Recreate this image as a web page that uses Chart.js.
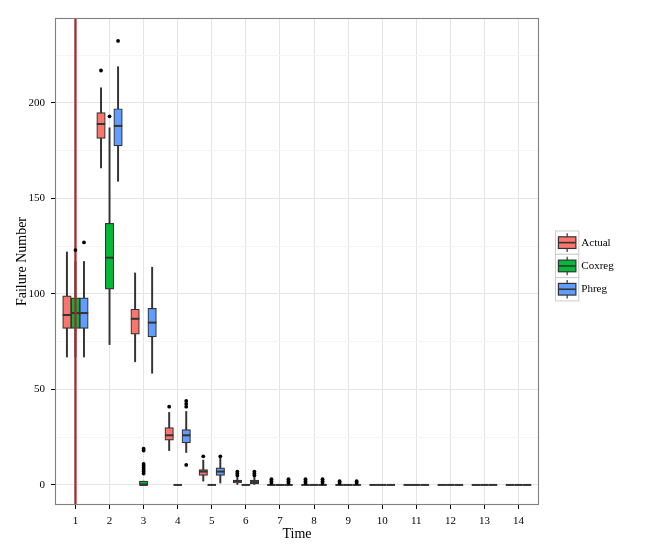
<!DOCTYPE html>
<html><head><meta charset="utf-8">
<script src="https://cdn.jsdelivr.net/npm/chart.js@4.4.1/dist/chart.umd.min.js"></script>
<style>html,body{margin:0;padding:0;background:#fff}#wrap{width:650px;height:553px}</style>
</head><body><div id="wrap"><canvas id="c" width="650" height="553"></canvas></div>
<script>
// ---- data ----
const times = [1, 2, 3, 4, 5, 6, 7, 8, 9, 10, 11, 12, 13, 14];
const seriesNames = ['Actual', 'Coxreg', 'Phreg'];
const yTickValues = [0, 25, 50, 75, 100, 125, 150, 175, 200, 225];
const yLabelStep = 50;
const vlineX = 1;

const actualLow  = [67, 166, 64.5, 18, 2, 0, 0, 0, 0, 0, 0, 0, 0, 0];
const actualQ1   = [82, 181.5, 79, 23.5, 5, 1, 0, 0, 0, 0, 0, 0, 0, 0];
const actualMed  = [89, 189, 87, 26, 7, 2, 0, 0, 0, 0, 0, 0, 0, 0];
const actualQ3   = [99, 195, 92, 30, 8, 2.5, 0, 0, 0, 0, 0, 0, 0, 0];
const actualHigh = [122, 208, 111, 38, 13, 4, 0, 0, 0, 0, 0, 0, 0, 0];
const actualOut  = [[], [217], [], [41], [15], [5, 6, 7], [1, 2, 3], [1, 2, 3], [1, 2], [], [], [], [], []];

const coxregLow  = [67, 73.5, 0, 0, 0, 0, 0, 0, 0, 0, 0, 0, 0, 0];
const coxregQ1   = [82, 102.5, 0, 0, 0, 0, 0, 0, 0, 0, 0, 0, 0, 0];
const coxregMed  = [90, 119, 0, 0, 0, 0, 0, 0, 0, 0, 0, 0, 0, 0];
const coxregQ3   = [98, 137, 2, 0, 0, 0, 0, 0, 0, 0, 0, 0, 0, 0];
const coxregHigh = [117, 187, 2, 0, 0, 0, 0, 0, 0, 0, 0, 0, 0, 0];
const coxregOut  = [[123], [193], [6, 7, 8, 9, 10, 11, 18, 19], [], [], [], [], [], [], [], [], [], [], []];

const phregLow   = [67, 159, 58.5, 17, 1, 0, 0, 0, 0, 0, 0, 0, 0, 0];
const phregQ1    = [82, 177.5, 77.5, 22, 5, 0.5, 0, 0, 0, 0, 0, 0, 0, 0];
const phregMed   = [90, 188, 85, 26, 7, 1.5, 0, 0, 0, 0, 0, 0, 0, 0];
const phregQ3    = [98, 197, 92.5, 29, 9, 2.5, 0, 0, 0, 0, 0, 0, 0, 0];
const phregHigh  = [117, 219, 114, 38.5, 14, 4, 0, 0, 0, 0, 0, 0, 0, 0];
const phregOut   = [[127], [232.5], [], [10.5, 41, 42.5, 44], [15], [5, 6, 7], [1, 2, 3], [1, 2, 3], [1, 2], [], [], [], [], []];

// ---- styling ----
const FONT = "'Liberation Serif', 'Times New Roman', 'DejaVu Serif', serif";
const fills = ['#F8766D', '#00BA38', '#619CFF'];
const dodge = [-0.25, 0, 0.25];
const LINE = '#333333';

const series = [
  {low: actualLow, q1: actualQ1, med: actualMed, q3: actualQ3, high: actualHigh, out: actualOut},
  {low: coxregLow, q1: coxregQ1, med: coxregMed, q3: coxregQ3, high: coxregHigh, out: coxregOut},
  {low: phregLow, q1: phregQ1, med: phregMed, q3: phregQ3, high: phregHigh, out: phregOut}
];

const datasets = [];
series.forEach((s, g) => {
  const xs = times.map(t => t + dodge[g]);
  datasets.push({
    type: 'bar', label: seriesNames[g] + ' whiskers',
    data: xs.map((x, i) => ({x: x, y: [s.low[i], s.high[i]]})),
    backgroundColor: LINE, borderWidth: 0, barThickness: 1.3, grouped: false, order: 40 + g
  });
  datasets.push({
    type: 'bar', label: seriesNames[g],
    data: xs.map((x, i) => ({x: x, y: [s.q1[i], s.q3[i]]})),
    backgroundColor: fills[g], borderColor: LINE, borderWidth: 1.2, borderSkipped: false,
    barThickness: 8.5, grouped: false, order: 30 + g
  });
  datasets.push({
    type: 'scatter', label: seriesNames[g] + ' median',
    data: xs.map((x, i) => ({x: x, y: s.med[i]})),
    pointStyle: 'line', radius: 4.25, borderWidth: 2, borderColor: LINE, order: 20 + g
  });
  const outs = [];
  xs.forEach((x, i) => s.out[i].forEach(v => outs.push({x: x, y: v})));
  datasets.push({
    type: 'scatter', label: seriesNames[g] + ' outliers', isOutlier: true,
    data: outs, pointStyle: 'circle', radius: 1.9, backgroundColor: '#000000',
    borderWidth: 0, order: g
  });
});

function drawVline(chart) {
  const {ctx, chartArea, scales} = chart;
  const px = scales.x.getPixelForValue(vlineX);
  ctx.save();
  ctx.strokeStyle = '#A52A2A';
  ctx.lineWidth = 2.3;
  ctx.beginPath();
  ctx.moveTo(px, chartArea.top);
  ctx.lineTo(px, chartArea.bottom);
  ctx.stroke();
  ctx.restore();
}

const overlayPlugin = {
  id: 'overlay',
  beforeDatasetsDraw(chart) { chart.$vlineDone = false; },
  beforeDatasetDraw(chart, args) {
    if (!chart.$vlineDone && chart.data.datasets[args.index].isOutlier) {
      drawVline(chart); chart.$vlineDone = true;
    }
  },
  afterDatasetsDraw(chart) { if (!chart.$vlineDone) { drawVline(chart); chart.$vlineDone = true; } },
  afterDraw(chart) {
    const {ctx, chartArea} = chart;
    ctx.save();
    // panel border
    ctx.strokeStyle = '#7F7F7F';
    ctx.lineWidth = 1.1;
    ctx.strokeRect(chartArea.left + 0.5, chartArea.top + 0.5,
      chartArea.right - chartArea.left - 1, chartArea.bottom - chartArea.top - 1);
    // legend
    const k = 23.3, lx = 555.5, ly = 231;
    seriesNames.forEach((name, g) => {
      const y0 = ly + g * k;
      ctx.fillStyle = '#ffffff';
      ctx.fillRect(lx, y0, k, k);
      ctx.strokeStyle = '#CCCCCC';
      ctx.lineWidth = 1;
      ctx.strokeRect(lx, y0, k, k);
      const cx = lx + k / 2;
      ctx.strokeStyle = LINE;
      ctx.lineWidth = 1.2;
      ctx.beginPath();
      ctx.moveTo(cx, y0 + 0.1 * k); ctx.lineTo(cx, y0 + 0.9 * k);
      ctx.stroke();
      ctx.fillStyle = fills[g];
      ctx.fillRect(lx + 0.125 * k, y0 + 0.25 * k, 0.75 * k, 0.5 * k);
      ctx.strokeRect(lx + 0.125 * k, y0 + 0.25 * k, 0.75 * k, 0.5 * k);
      ctx.lineWidth = 1.6;
      ctx.beginPath();
      ctx.moveTo(lx + 0.125 * k, y0 + 0.5 * k); ctx.lineTo(lx + 0.875 * k, y0 + 0.5 * k);
      ctx.stroke();
      ctx.fillStyle = '#000000';
      ctx.font = '11px ' + FONT;
      ctx.textAlign = 'left';
      ctx.textBaseline = 'middle';
      ctx.fillText(name, lx + k + 2.5, y0 + k / 2);
    });
    ctx.restore();
  }
};

const MAJOR = '#E5E5E5', MINOR = '#F5F5F5';

new Chart(document.getElementById('c'), {
  type: 'bar',
  data: {datasets: datasets},
  plugins: [overlayPlugin, {
    id: 'bg',
    beforeDraw(chart) {
      const {ctx} = chart;
      ctx.save(); ctx.fillStyle = '#fff'; ctx.fillRect(0, 0, chart.width, chart.height); ctx.restore();
    }
  }],
  options: {
    responsive: false,
    animation: false,
    events: [],
    layout: {padding: {top: 18, right: 111, bottom: 0, left: 0}},
    plugins: {legend: {display: false}, tooltip: {enabled: false}, title: {display: false}},
    scales: {
      x: {
        type: 'linear', min: 0.4, max: 14.6, offset: false,
        afterBuildTicks(axis) { axis.ticks = times.map(v => ({value: v})); },
        afterFit(axis) { axis.height = 48; },
        border: {display: false},
        grid: {color: MAJOR, lineWidth: 1, offset: false, tickLength: 4, tickColor: '#000000', tickWidth: 1},
        ticks: {autoSkip: false, maxRotation: 0, padding: 6, color: '#000000',
          font: {family: FONT, size: 11}, callback: v => String(v)},
        title: {display: true, text: 'Time', color: '#000000', font: {family: FONT, size: 14},
          padding: {top: 0, bottom: 10}}
      },
      y: {
        type: 'linear', min: -10.5, max: 244.5,
        afterBuildTicks(axis) { axis.ticks = yTickValues.map(v => ({value: v})); },
        afterFit(axis) { axis.width = 55; },
        border: {display: false},
        grid: {
          color: ctx => (ctx.tick && ctx.tick.value % yLabelStep !== 0) ? MINOR : MAJOR,
          tickColor: ctx => (ctx.tick && ctx.tick.value % yLabelStep !== 0) ? 'rgba(0,0,0,0)' : '#000000',
          lineWidth: 1, tickLength: 4, tickWidth: 1
        },
        ticks: {padding: 6, color: '#000000', font: {family: FONT, size: 11},
          callback: v => (v % yLabelStep === 0 ? String(v) : '')},
        title: {display: true, text: 'Failure Number', color: '#000000', font: {family: FONT, size: 14},
          padding: {top: 14, bottom: 0}}
      }
    }
  }
});
</script></body></html>
